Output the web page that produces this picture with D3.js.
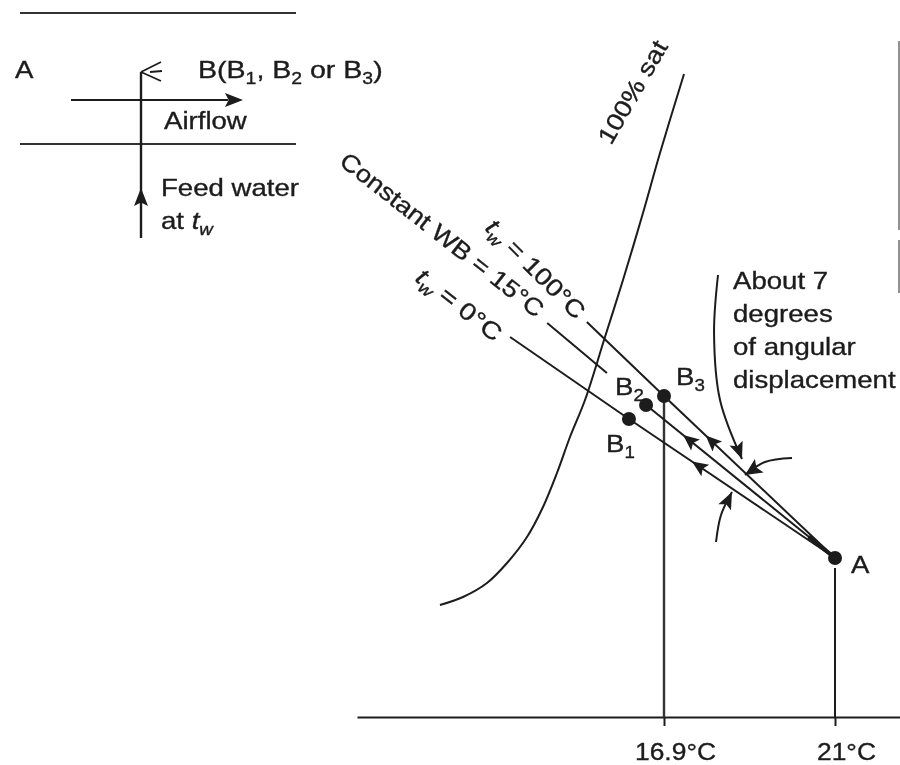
<!DOCTYPE html>
<html><head><meta charset="utf-8">
<script src="https://cdnjs.cloudflare.com/ajax/libs/d3/7.8.5/d3.min.js"></script>
<style>
html,body{margin:0;padding:0;background:#fff}
svg{display:block;filter:blur(0.45px)}
text{font-family:"Liberation Sans",Arial,sans-serif;fill:#1c1c1c;stroke:#1c1c1c;stroke-width:0.35px}
</style></head><body><svg id="c" width="900" height="765"></svg>
<script>
// Values: dry-bulb temperature (°C) and moisture (arbitrary chart units)
const tickValues = [16.9, 21];
const tickLabels = ["16.9°C", "21°C"];
const pointNames = ["A", "B1", "B2", "B3"];
const pointT = [21, 16.06, 16.47, 16.9];
const pointG = [3.975, 7.45, 7.8, 8.025];
const satT = [11.529, 12.081, 12.656, 13.136, 13.615, 13.999, 14.334, 14.646, 15.006, 15.485, 15.917, 16.396, 16.804, 17.38];
const satG = [2.8, 3.0, 3.35, 3.85, 4.5, 5.25, 6.1, 7.0, 7.925, 9.5, 10.925, 12.6, 14.1, 16.075];
const lineEndT = [13.21, 14.10, 15.05];   // tw=0, constant WB, tw=100 far ends
const lineEndG = [9.5, 9.85, 9.875];
const wbGapT = 15.53, wbGapG = 8.6;
const note1T = [18.195, 18.10, 18.243, 18.77], note1G = [11.05, 9.6, 7.925, 6.45];
const note2T = [19.97, 19.32, 18.842], note2G = [6.475, 6.375, 6.05];
const note3T = [18.147, 18.267, 18.53], note3G = [4.375, 5.05, 5.625];
const arrowFractions = [0.694, 0.804, 0.756];

const svg = d3.select("#c");
const x0 = d3.scaleLinear().domain([16.9, 21]).range([664, 835]);
const x = d3.scaleLinear().domain([x0.invert(357), x0.invert(900)]).range([357, 900]);
const y = d3.scaleLinear().domain([0, 10]).range([717, 317]);
const INK = "#1c1c1c";
const FS = 24, SX = 1.15;

const curve = (ts, gs, c) => d3.line().x(d => x(d[0])).y(d => y(d[1])).curve(c)(d3.zip(ts, gs));
function stroke(d, w = 2, col = INK) {
  return svg.append("path").attr("d", d).attr("fill", "none").attr("stroke", col).attr("stroke-width", w);
}
function head(tx, ty, ang, len = 17, hw = 7) {
  // barbed solid arrowhead with its tip at (tx, ty) pointing along ang (degrees)
  svg.append("path").attr("d", `M0,0L${-len},${-hw}L${-len * 0.8},0L${-len},${hw}Z`).attr("fill", INK)
    .attr("transform", `translate(${tx},${ty}) rotate(${ang})`);
}
function endHead(ts, gs, len, hw) {
  const n = ts.length;
  const ax = x(ts[n - 2]), ay = y(gs[n - 2]), bx = x(ts[n - 1]), by = y(gs[n - 1]);
  head(bx, by, Math.atan2(by - ay, bx - ax) * 180 / Math.PI, len, hw);
}
function label(parts, px, py, rot = 0, size = FS, sx = SX) {
  const t = svg.append("text").attr("font-size", size)
    .attr("transform", `translate(${px},${py}) rotate(${rot}) scale(${sx},1)`);
  parts.forEach(p => {
    const s = t.append("tspan").text(p.t);
    if (p.sub) s.attr("font-size", size * 0.68).attr("dy", size * 0.24);
    if (p.up) s.attr("dy", -size * 0.24);
    if (p.it) s.attr("font-style", "italic");
  });
  return t;
}

// Axis
const axis = d3.axisBottom(x).tickValues(tickValues).tickSize(9).tickSizeOuter(0)
  .tickFormat((d, i) => tickLabels[i]);
const ag = svg.append("g").attr("transform", `translate(0,${y(0)})`).call(axis);
ag.select(".domain").attr("stroke", INK).attr("stroke-width", 2);
ag.selectAll(".tick line").attr("stroke", INK).attr("stroke-width", 2);
ag.selectAll(".tick text").attr("font-size", FS).attr("dy", 0).attr("y", 0).attr("x", 0)
  .attr("transform", `translate(11,43) scale(${SX - 0.05},1)`);

// Saturation curve
stroke(curve(satT, satG, d3.curveCatmullRom));

// Verticals
stroke(`M${x(21)},${y(pointG[0]) + 10}V${y(0)}`, 2);
stroke(`M${x(16.9)},${y(pointG[3])}V${y(0)}`, 2.4, "#333");

// Process lines, A to each end
const ax = x(pointT[0]), ay = y(pointG[0]);
[0, 1, 2].forEach(i => {
  const j = i + 1;
  const bx = x(pointT[j]), by = y(pointG[j]);
  stroke(`M${ax},${ay}L${bx},${by}`, 2);
  if (i === 1) {
    stroke(`M${x(wbGapT)},${y(wbGapG)}L${x(lineEndT[i])},${y(lineEndG[i])}`, 2);
    stroke(`M${ax},${ay}L${ax + (bx - ax) * 0.14},${ay + (by - ay) * 0.14}`, 4);
  } else stroke(`M${bx},${by}L${x(lineEndT[i])},${y(lineEndG[i])}`, 2);
  const f = arrowFractions[i];
  head(ax + (bx - ax) * f, ay + (by - ay) * f, Math.atan2(by - ay, bx - ax) * 180 / Math.PI, 16, 7);
});

// Points
svg.selectAll("circle.p").data(d3.zip(pointT, pointG)).join("circle").attr("class", "p")
  .attr("cx", d => x(d[0])).attr("cy", d => y(d[1])).attr("r", 7).attr("fill", INK);

// Angle annotations
stroke(curve(note1T, note1G, d3.curveCatmullRom), 2);
endHead(note1T, note1G, 17, 7);
stroke(curve(note2T, note2G, d3.curveCatmullRom), 2);
endHead(note2T, note2G, 17, 8);
stroke(curve(note3T, note3G, d3.curveCatmullRom), 2);
endHead(note3T, note3G, 17, 7);

// Chart labels
label([{t: "A"}], 851, 573);
label([{t: "B"}, {t: "1", sub: 1}], 606, 452);
label([{t: "B"}, {t: "2", sub: 1}], 615, 395);
label([{t: "B"}, {t: "3", sub: 1}], 676, 385);
["About 7", "degrees", "of angular", "displacement"].forEach((s, i) =>
  label([{t: s}], 733, 289 + i * 33));
label([{t: "100% sat"}], 611, 146, -60);
label([{t: "Constant WB = 15°C"}], 338, 164, 38, FS, 1.13);
label([{t: "t", it: 1}, {t: "w", sub: 1, it: 1}, {t: " = 100°C", up: 1}], 484, 229, 45, FS, 1.15);
label([{t: "t", it: 1}, {t: "w", sub: 1, it: 1}, {t: " = 0°C", up: 1}], 414, 280, 38, FS, 1.18);

// Inset duct diagram
stroke("M20,13H296", 2.2, "#333");
stroke("M20,144H296", 2.2, "#333");
stroke("M71,100H228", 2.2);
head(243, 100, 0, 18, 7);
stroke("M141,238V72", 2.4);
head(141, 188, -90, 18, 7);
stroke("M141,72L161,62M141,72L161,81M150,72L162,71", 1.8);
label([{t: "A"}], 15, 78);
label([{t: "B(B"}, {t: "1", sub: 1}, {t: ", B", up: 1}, {t: "2", sub: 1}, {t: " or B", up: 1}, {t: "3", sub: 1}, {t: ")", up: 1}], 198, 78, 0, FS, 1.19);
label([{t: "Airflow"}], 164, 129);
label([{t: "Feed water"}], 161, 196);
label([{t: "at "}, {t: "t", it: 1}, {t: "w", sub: 1, it: 1}], 161, 229);

// Page edge rule at right
stroke("M899,41V230M899,240V293", 1.6, "#777");
</script></body></html>
